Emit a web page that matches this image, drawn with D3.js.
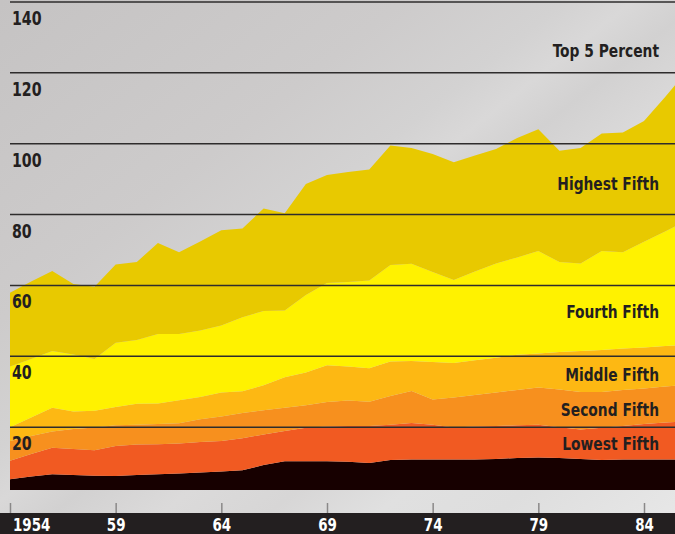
<!DOCTYPE html>
<html>
<head>
<meta charset="utf-8">
<script src="https://cdn.jsdelivr.net/npm/d3@7"></script>
<style>
  html, body { margin: 0; padding: 0; background: #d4d3d3; }
  svg { display: block; }
  .lbl { font-family: "Liberation Sans Narrow", "Arial Narrow", "DejaVu Sans Condensed", sans-serif; font-weight: bold; }
</style>
</head>
<body>
<svg id="chart" width="675" height="534"></svg>
<script>
// years on the x axis
const years = d3.range(1954, 1987);

// thickness of each band, bottom to top
const lowestFifth = [5.3, 6.1, 6.7, 6.5, 6.3, 6.2, 6.5, 6.7, 6.9, 7.2, 7.5, 7.8, 9.3, 10.4, 10.4, 10.4, 10.2, 9.9, 10.7, 10.9, 10.9, 10.9, 10.9, 11.0, 11.3, 11.4, 11.3, 11.0, 10.7, 10.9, 10.9, 10.9, 10.9];
const secondFifth = [5.2, 6.3, 7.5, 7.3, 7.2, 8.5, 8.6, 8.5, 8.5, 8.6, 8.6, 9.1, 8.6, 8.5, 9.4, 9.8, 10.1, 10.4, 10.0, 10.3, 9.8, 9.0, 9.3, 9.3, 9.2, 9.3, 8.7, 8.3, 9.1, 9.4, 10.0, 10.4, 10.8];
const middleFifth = [5.6, 5.1, 4.6, 5.7, 6.4, 5.8, 5.6, 5.7, 5.7, 6.4, 6.9, 7.1, 6.9, 6.6, 6.4, 6.9, 7.2, 6.9, 8.1, 9.0, 7.1, 8.5, 8.9, 9.5, 10.0, 10.5, 10.6, 10.6, 10.1, 10.2, 10.0, 10.2, 10.2];
const fourthFifth = [3.9, 5.2, 6.7, 4.9, 4.7, 5.2, 5.9, 5.8, 6.5, 6.3, 6.8, 6.1, 7.0, 8.6, 9.2, 10.4, 9.6, 9.4, 9.7, 8.5, 10.6, 9.7, 9.8, 9.8, 9.9, 9.6, 10.6, 11.6, 11.9, 11.7, 11.6, 11.4, 11.3];
const highestFifth = [17.1, 16.5, 16.0, 16.1, 14.6, 18.1, 18.0, 19.6, 18.7, 18.8, 18.9, 20.9, 21.0, 18.8, 21.9, 23.2, 23.9, 24.8, 27.3, 27.4, 25.4, 23.4, 25.0, 26.6, 27.5, 28.9, 25.4, 24.7, 27.9, 27.2, 29.8, 32.3, 35.0];
const top5Percent = [20.8, 21.9, 22.6, 19.9, 20.4, 22.1, 22.0, 25.7, 23.1, 25.1, 26.9, 25.1, 28.9, 27.5, 31.3, 30.5, 31.0, 31.3, 33.7, 32.7, 33.3, 33.3, 32.8, 32.3, 33.7, 34.4, 31.4, 32.6, 33.2, 33.8, 34.1, 38.0, 42.0];

const seriesKeys = ["Lowest Fifth", "Second Fifth", "Middle Fifth", "Fourth Fifth", "Highest Fifth", "Top 5 Percent"];
const seriesValues = [lowestFifth, secondFifth, middleFifth, fourthFifth, highestFifth, top5Percent];
const colors = ["#170000", "#f15a22", "#f7901e", "#fdb813", "#fff200", "#e8c900"];

const yTicks = [20, 40, 60, 80, 100, 120, 140];
const xTicks = [1954, 1959, 1964, 1969, 1974, 1979, 1984];

const table = years.map((yr, i) => {
  const row = { year: yr };
  seriesKeys.forEach((k, j) => row[k] = seriesValues[j][i]);
  return row;
});

const W = 675, H = 534;
const plotLeft = 10, plotBottom = 490;
const squeeze = 0.83; // narrow the fallback font to look like a condensed face

const svg = d3.select("#chart");
const defs = svg.append("defs");

// streaky grey background
const bg = defs.append("linearGradient")
  .attr("id", "bg")
  .attr("x1", "0").attr("y1", "0")
  .attr("x2", "1").attr("y2", "1");
[[0, "#c5c3c3"], [0.3, "#cdcbcb"], [0.42, "#d3d2d2"], [0.47, "#d9d8d8"], [0.52, "#d2d1d1"],
 [0.6, "#dbdada"], [0.68, "#d7d6d6"], [0.76, "#e0e0e0"], [0.85, "#dedede"], [1, "#e8e8e8"]]
  .forEach(s => bg.append("stop").attr("offset", s[0]).attr("stop-color", s[1]));

defs.append("clipPath").attr("id", "plotclip")
  .append("rect")
  .attr("x", plotLeft).attr("y", 0)
  .attr("width", W - plotLeft).attr("height", plotBottom);

svg.append("rect").attr("width", W).attr("height", H).attr("fill", "url(#bg)");

const x = d3.scaleLinear().domain([1954, 1984]).range([plotLeft, 644]);
const y = d3.scaleLinear().domain([0, 140]).range([498, 2]);

const stack = d3.stack().keys(seriesKeys);
const stacked = stack(table);

const area = d3.area()
  .x(d => x(d.data.year))
  .y0(d => y(d[0]))
  .y1(d => y(d[1]));

svg.append("g")
  .attr("clip-path", "url(#plotclip)")
  .selectAll("path")
  .data(stacked)
  .join("path")
  .attr("d", area)
  .attr("fill", (d, i) => colors[i]);

// grid lines
svg.append("g")
  .selectAll("line")
  .data(yTicks)
  .join("line")
  .attr("x1", plotLeft).attr("x2", W)
  .attr("y1", d => y(d)).attr("y2", d => y(d))
  .attr("stroke", "#2e2c2c")
  .attr("stroke-width", 1.5);

// y labels
svg.append("g")
  .selectAll("text")
  .data(yTicks)
  .join("text")
  .attr("class", "lbl")
  .attr("transform", d => `translate(12,${y(d) + 23}) scale(${squeeze},1)`)
  .attr("font-size", 19)
  .attr("fill", "#231f20")
  .text(d => d);

// band labels
const labelY = [450, 416, 381, 318, 190, 57];
svg.append("g")
  .selectAll("text")
  .data(seriesKeys)
  .join("text")
  .attr("class", "lbl")
  .attr("transform", (d, i) => `translate(659,${labelY[i]}) scale(${squeeze},1)`)
  .attr("text-anchor", "end")
  .attr("font-size", 18.5)
  .attr("fill", "#231f20")
  .text(d => d);

// dark strip with years
svg.append("rect")
  .attr("x", 0).attr("y", 513)
  .attr("width", W).attr("height", H - 513)
  .attr("fill", "#231f20");

const xAxis = d3.axisBottom(x)
  .tickValues(xTicks)
  .tickSize(10)
  .tickPadding(5)
  .tickFormat(d => d === 1954 ? "1954" : String(d).slice(2));

const gx = svg.append("g")
  .attr("transform", "translate(0,503)")
  .call(xAxis);
gx.select(".domain").remove();
gx.selectAll(".tick line").attr("stroke", "#8a8888").attr("stroke-width", 1.5);
gx.selectAll(".tick text")
  .attr("class", "lbl")
  .attr("font-size", 18)
  .attr("fill", "#ffffff")
  .attr("transform", `scale(${squeeze},1)`)
  .attr("text-anchor", d => d === 1954 ? "start" : "middle")
  .attr("dx", d => d === 1954 ? 3 : 0);
</script>
</body>
</html>
